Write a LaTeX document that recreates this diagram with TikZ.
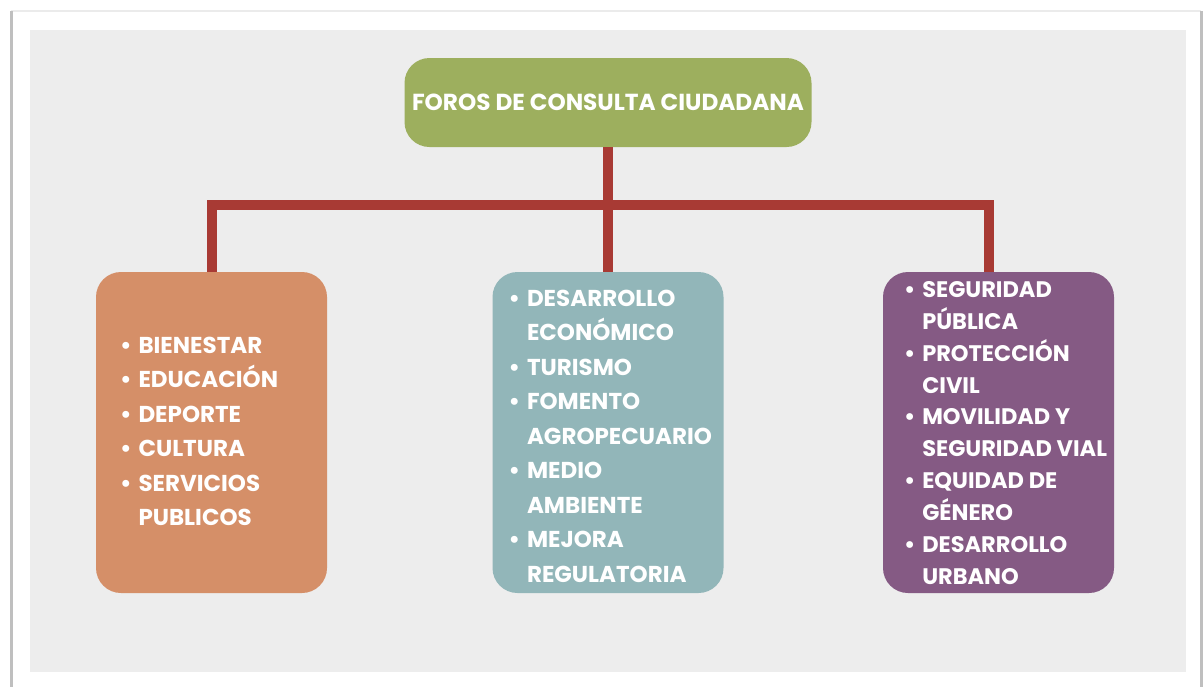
\documentclass[tikz,border=0pt]{standalone}
\usepackage{fontspec}
\setmainfont{Poppins}
\usetikzlibrary{positioning}
\definecolor{fondo}{HTML}{EDEDED}
\definecolor{verde}{HTML}{9DAF5E}
\definecolor{naranja}{HTML}{D58F68}
\definecolor{azul}{HTML}{92B6B9}
\definecolor{morado}{HTML}{855A84}
\definecolor{rojo}{HTML}{A83A34}
\tikzset{
  caja/.style={rounded corners=25pt, minimum width=231pt, minimum height=321pt},
  lista/.style={text=white, inner sep=0pt, anchor=west, font=\bfseries\fontsize{23}{34.5}\selectfont},
}
\newcommand{\lst}[1]{\begin{tabular}{@{}l@{\hspace{7pt}}l@{}}#1\end{tabular}}

\begin{document}
\begin{tikzpicture}[x=1pt,y=-1pt]
	\useasboundingbox (0,0) rectangle (1204,686);
	\fill[white] (0,0) rectangle (1204,686);
	\draw[black!8, line width=2pt] (11,11) -- (1201,11);
	\draw[black!25, line width=3pt] (11,700) -- (11,11) (1201,11) -- (1201,700);
	\fill[fondo] (30,30) rectangle (1186,672);
	\node[fill=verde, rounded corners=25pt, minimum width=407pt, minimum height=89pt, text=white, font=\bfseries\fontsize{23.2}{28}\selectfont] (foros) at (608,102.5) {FOROS DE CONSULTA CIUDADANA};
	\node[caja, fill=naranja] (bienestar) at (211.5,432.5) {};
	\node[caja, fill=azul] (economia) at (608,432.5) {};
	\node[caja, fill=morado] (seguridad) at (998.5,432.5) {};
	\coordinate (bus) at (608,205);
	\draw[rojo, line width=10pt] (foros.south) -- (economia.north);
	\draw[rojo, line width=10pt] (bienestar.north) -- (bienestar.north |- bus) -- ([xshift=-10pt]seguridad.north |- bus) -- ([xshift=-10pt]seguridad.north);
	\node[lista] (l1) at ([xshift=24pt]bienestar.west) {\lst{• & BIENESTAR\\ • & EDUCACIÓN\\ • & DEPORTE\\ • & CULTURA\\ • & SERVICIOS\\ & PUBLICOS}};
	\node[lista] (l2) at ([xshift=16pt, yshift=-5pt]economia.west) {\lst{• & DESARROLLO\\ & ECONÓMICO\\ • & TURISMO\\ • & FOMENTO\\ & AGROPECUARIO\\ • & MEDIO\\ & AMBIENTE\\ • & MEJORA\\ & REGULATORIA}};
	\node[lista, font=\bfseries\fontsize{22.5}{31.9}\selectfont] (l3) at ([xshift=21pt, yshift=-2pt]seguridad.west) {\lst{• & SEGURIDAD\\ & PÚBLICA\\ • & PROTECCIÓN\\ & CIVIL\\ • & MOVILIDAD Y\\ & SEGURIDAD VIAL\\ • & EQUIDAD DE\\ & GÉNERO\\ • & DESARROLLO\\ & URBANO}};
\end{tikzpicture}
\end{document}
